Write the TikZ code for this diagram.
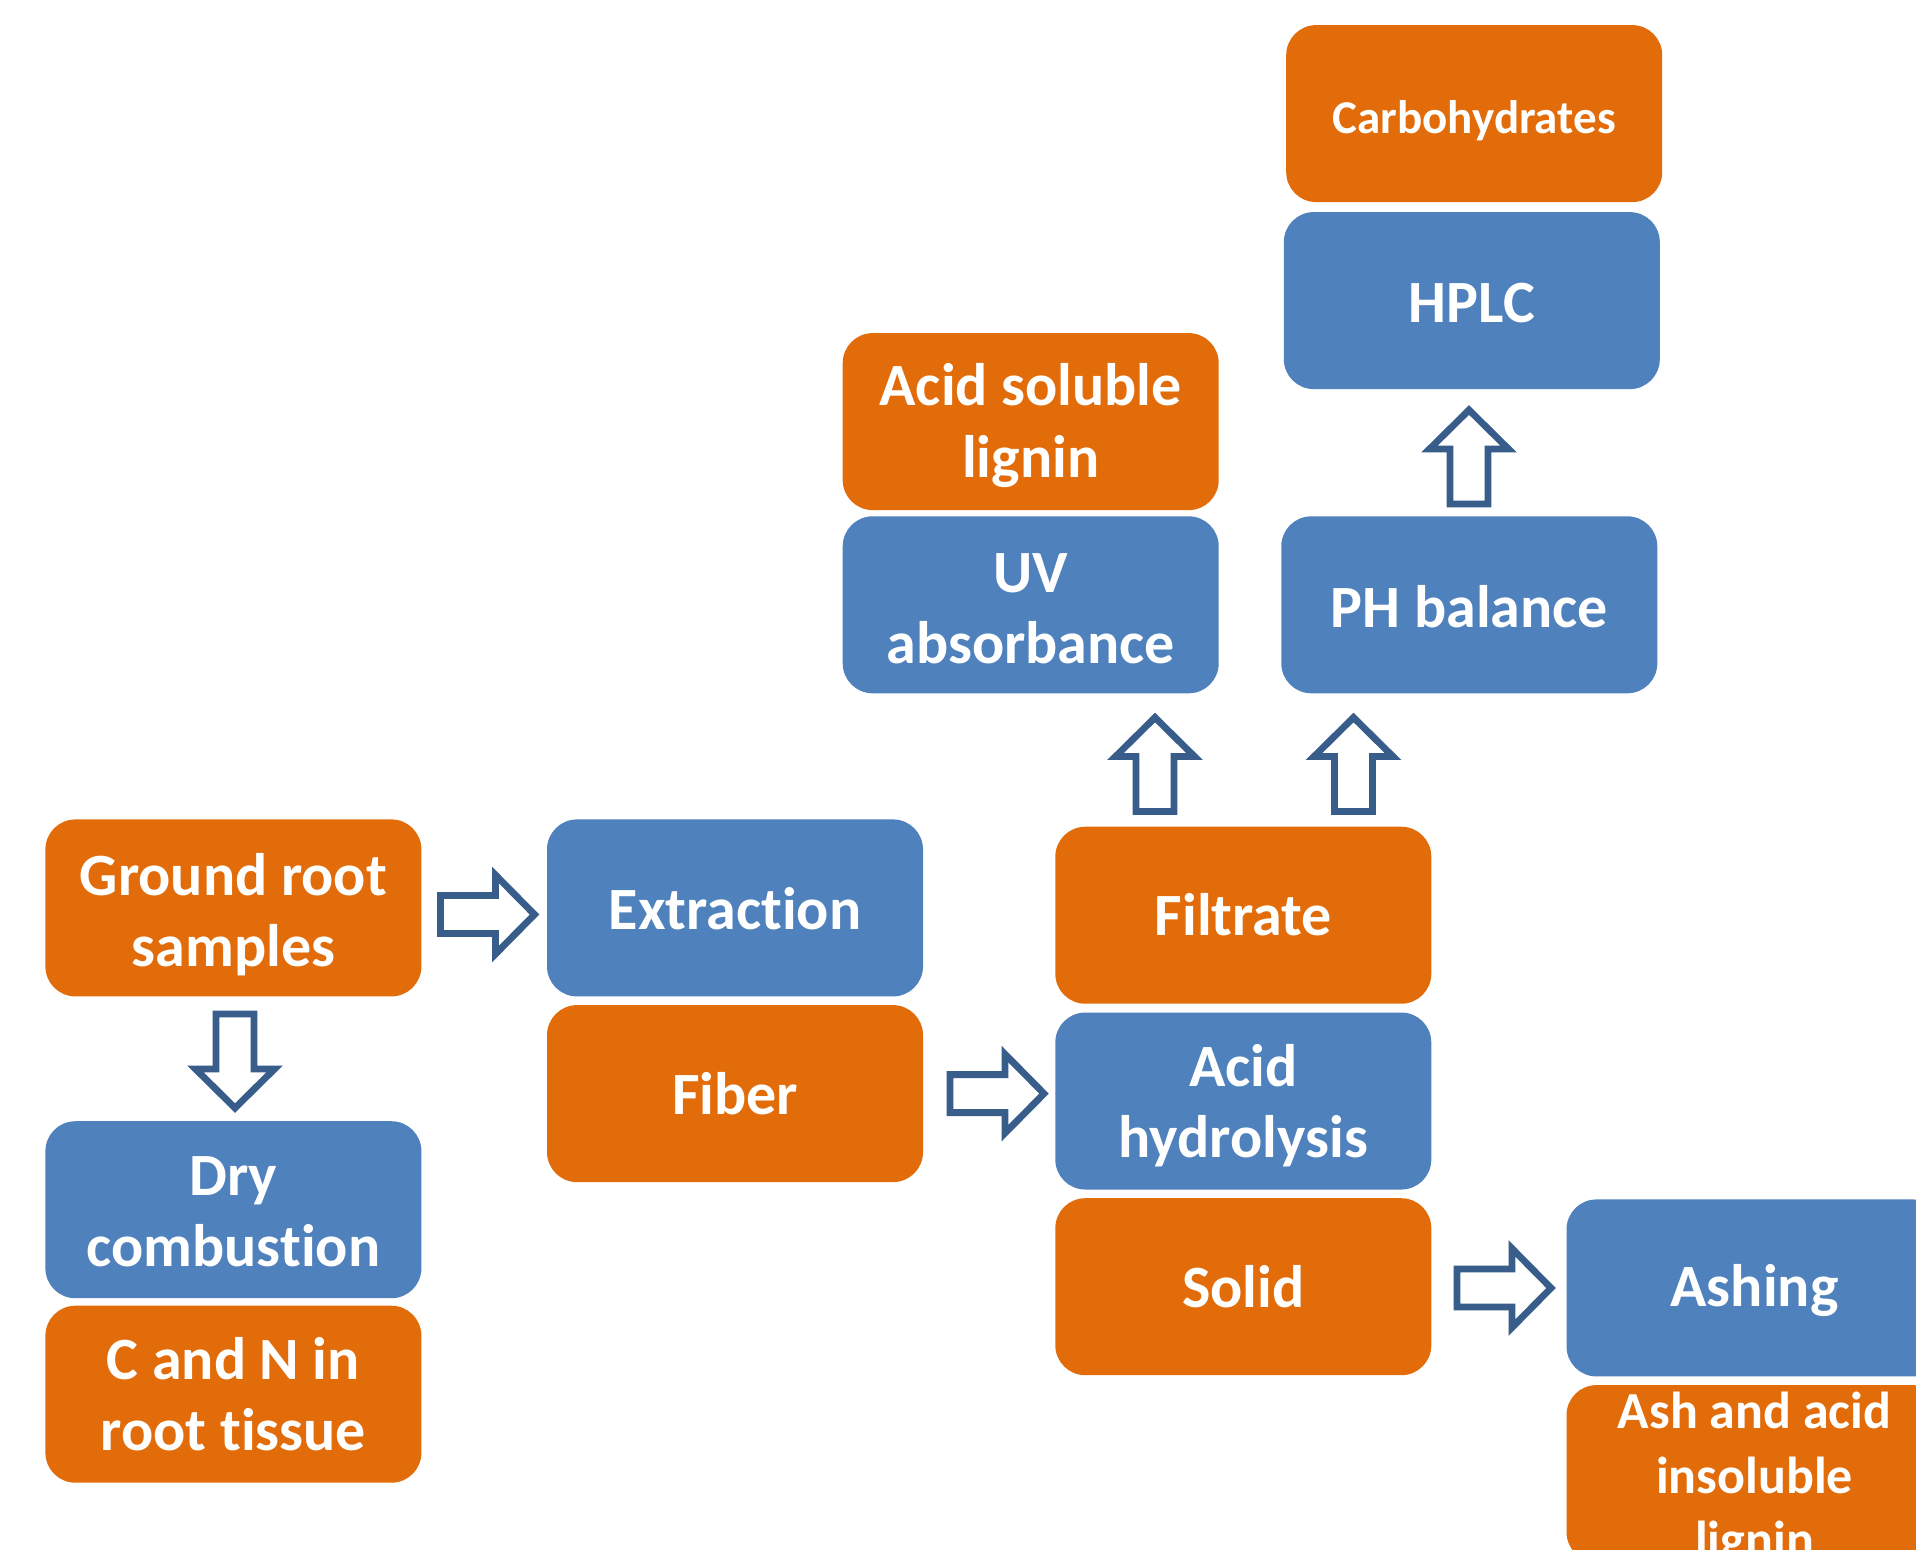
\documentclass[tikz,border=0pt]{standalone}
\usepackage{fontspec}
\setmainfont{Carlito}[Ligatures={NoCommon}]
\definecolor{orng}{HTML}{E36C0A}
\definecolor{blu}{HTML}{4F81BD}
\definecolor{arrc}{HTML}{385D8A}
\newcommand\blockarr[4]{%
  \coordinate (#1) at (#2,#3);
  \draw[arr, shift={(#1)}, rotate=#4] (-47,-19) -- (8,-19) -- (8,-39.5) -- (47,0) -- (8,39.5) -- (8,19) -- (-47,19) -- cycle;}
% box: style, name, position, text, text options
\newcommand\bx[5]{%
  \node[#1] (#2) at (#3) {};
  \node[tx, #5] (#2-t) at ([yshift=0pt]#2.center) {#4};}
\begin{document}
\begin{tikzpicture}[x=0.5pt,y=-0.5pt,
  box/.style={rounded corners=15pt, minimum width=188pt, minimum height=88.5pt, inner sep=0pt},
  tx/.style={inner sep=0pt, text=white, font=\bfseries\fontsize{30}{35.6}\selectfont, align=center},
  ob/.style={box, fill=orng},
  bb/.style={box, fill=blu},
  arr/.style={draw=arrc, line width=3.4pt, fill=white, line join=miter}]
\useasboundingbox (0,0) rectangle (1916,1549);
\clip (0,0) rectangle (1916,1549);
\fill[white] (0,0) rectangle (1916,1549);
% boxes
\bx{ob}{gr}{233.4,907.9}{Ground root\\samples}{yshift=-3.5pt}
\bx{bb}{ext}{735,907.9}{Extraction}{yshift=-0.5pt}
\bx{ob}{fib}{735,1093.6}{Fiber}{}
\bx{bb}{dry}{233.4,1209.7}{Dry\\combustion}{yshift=-1.2pt}
\bx{ob}{cn}{233.4,1394.2}{C and N in\\root tissue}{}
\bx{ob}{fil}{1243.3,915.2}{Filtrate}{yshift=0.5pt}
\bx{bb}{ah}{1243.3,1101}{Acid\\hydrolysis}{yshift=-2.5pt}
\bx{ob}{sol}{1243.3,1286.7}{Solid}{}
\bx{bb}{ash}{1754.5,1287.9}{Ashing}{yshift=-1.5pt}
\bx{ob}{aai}{1754.5,1473.6}{Ash and acid\\insoluble\\lignin}{font=\bfseries\fontsize{26}{32.3}\selectfont, yshift=-2.8pt}
\bx{bb}{uv}{1030.7,604.8}{UV\\absorbance}{yshift=-2pt}
\bx{ob}{asl}{1030.7,421.6}{Acid soluble\\lignin}{yshift=-2pt}
\bx{bb}{ph}{1469.3,604.8}{PH balance}{yshift=-1pt}
\bx{bb}{hplc}{1471.8,300.6}{HPLC}{yshift=-1pt}
\bx{ob}{carb}{1474.2,113.6}{Carbohydrates}{font=\bfseries\fontsize{23.5}{28.7}\selectfont, yshift=-3.5pt}
% block arrows
\blockarr{a1}{487.5}{914.5}{0}
\blockarr{a2}{235}{1061}{-90}
\blockarr{a3}{997}{1093.6}{0}
\blockarr{a4}{1155}{764.5}{90}
\blockarr{a5}{1353.5}{764.5}{90}
\blockarr{a6}{1469}{457}{90}
\blockarr{a7}{1504}{1288}{0}
\end{tikzpicture}
\end{document}
